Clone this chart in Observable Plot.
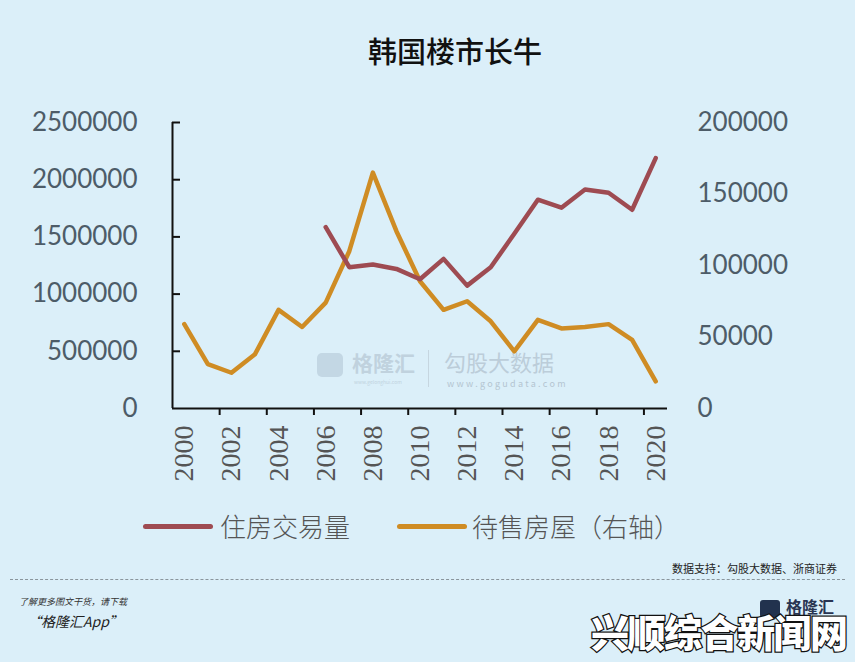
<!DOCTYPE html>
<html>
<head>
<meta charset="utf-8">
<script src="https://cdn.jsdelivr.net/npm/d3@7"></script>
<script src="https://cdn.jsdelivr.net/npm/@observablehq/plot@0.6"></script>
<style>
  body { margin: 0; }
  #wrap { position: relative; width: 855px; height: 662px; background: #dbeff9; overflow: hidden; font-family: "Noto Sans CJK SC", sans-serif; }
  .abs { position: absolute; white-space: nowrap; line-height: 1; }
</style>
</head>
<body>
<div id="wrap">
  <div class="abs" style="left:0;width:910px;top:36px;text-align:center;font-size:29px;font-weight:500;color:#111;">韩国楼市长牛</div>

  <!-- faint watermark behind the chart -->
  <div class="abs" style="left:317px;top:353px;width:26px;height:24px;border-radius:5px;background:#c3d7e4;"></div>
  <div class="abs" style="left:352px;top:352px;font-size:21px;color:#c0d2de;font-weight:700;">格隆汇</div>
  <div class="abs" style="left:354px;top:379px;font-size:5px;color:#c0d2de;">www.gelonghui.com</div>
  <div class="abs" style="left:428px;top:350px;width:1px;height:37px;background:#c6d6e0;"></div>
  <div class="abs" style="left:444px;top:350px;font-size:22px;color:#bccdd9;">勾股大数据</div>
  <div class="abs" style="left:447px;top:379px;font-size:9px;letter-spacing:2.3px;color:#b4c5d1;">www.gogudata.com</div>

  <div id="chart" class="abs" style="left:0;top:90px;"></div>

  <!-- legend -->
  <div class="abs" style="left:143px;top:524px;width:70px;height:5px;border-radius:3px;background:#9e4b52;"></div>
  <div class="abs" style="left:220px;top:513px;font-size:26px;font-weight:300;color:#555;">住房交易量</div>
  <div class="abs" style="left:397px;top:524px;width:70px;height:5px;border-radius:3px;background:#cf8c24;"></div>
  <div class="abs" style="left:472px;top:513px;font-size:26px;font-weight:300;color:#555;">待售房屋（右轴）</div>

  <div class="abs" style="right:18px;top:563px;font-size:11px;color:#222;">数据支持：勾股大数据、浙商证券</div>
  <div class="abs" style="left:10px;top:579px;width:835px;height:0;border-top:1px dashed #8a959c;"></div>
  <div class="abs" style="left:19px;top:597px;font-size:9px;font-style:italic;color:#333;">了解更多图文干货，请下载</div>
  <div class="abs" style="left:27px;top:614px;font-size:14px;font-style:italic;color:#222;">“格隆汇App”</div>

  <!-- logo -->
  <div class="abs" style="left:760px;top:600px;width:20px;height:18px;border-radius:3px;background:#22324e;"></div>
  <div class="abs" style="left:786px;top:598px;font-size:16px;font-weight:700;color:#2a3552;">格隆汇</div>

  <!-- overlay watermark -->
  <div class="abs" style="left:591px;top:612px;font-size:38px;font-weight:900;color:#fff;-webkit-text-stroke:2.5px #111;paint-order:stroke fill;letter-spacing:-1.5px;">兴顺综合新闻网</div>
</div>
<script>
// ---- data ----
const years = d3.range(2000, 2021);
const inventory = [59000, 31000, 25000, 38000, 69000, 57000, 74000, 110000, 165000, 124000, 89000, 69000, 75000, 61000, 40000, 62000, 56000, 57000, 59000, 48000, 19000]; // 待售房屋（右轴）
const salesYears = d3.range(2006, 2021);
const sales = [1585000, 1235000, 1258000, 1220000, 1130000, 1308000, 1074000, 1235000, 1527000, 1825000, 1755000, 1915000, 1886000, 1737000, 2189000]; // 住房交易量
const leftTicks = [0, 500000, 1000000, 1500000, 2000000, 2500000];
const rightTicks = [0, 50000, 100000, 150000, 200000];
const xLabelYears = [2000, 2002, 2004, 2006, 2008, 2010, 2012, 2014, 2016, 2018, 2020];
const xTickBounds = [2001.5, 2003.5, 2005.5, 2007.5, 2009.5, 2011.5, 2013.5, 2015.5, 2017.5, 2019.5];

const ratio = 2500000 / 200000;
const invData = years.map((y, i) => ({year: y, v: inventory[i]}));
const salesData = salesYears.map((y, i) => ({year: y, v: sales[i]}));

const chart = Plot.plot({
  width: 855,
  height: 420,
  marginTop: 32,
  marginBottom: 102,
  marginLeft: 172,
  marginRight: 188,
  style: {background: "transparent", overflow: "visible", fontFamily: "Lato", fontSize: "26px"},
  x: {type: "linear", domain: [1999.5, 2020.5]},
  y: {domain: [0, 2500000]},
  marks: [
    Plot.axisY({anchor: "left", ticks: leftTicks, tickSize: 0, tickPadding: 35, tickFormat: d => String(d),
      fontSize: 26, fill: "#4d5c68", label: null}),
    Plot.axisY({anchor: "left", ticks: leftTicks.slice(1), tickSize: -8, tickFormat: () => "", stroke: "#111", strokeWidth: 2, label: null}),
    Plot.axisY({anchor: "right", ticks: rightTicks.map(v => v * ratio), tickSize: 0, tickPadding: 30,
      tickFormat: d => String(Math.round(d / ratio)), fontSize: 26, fill: "#4d5c68", label: null}),
    Plot.axisX({anchor: "bottom", ticks: xTickBounds, tickSize: 7, tickFormat: () => "", stroke: "#111", strokeWidth: 2, label: null}),
    // year labels, rotated, in a serif face
    Plot.text(xLabelYears, {x: d => d, y: 0, text: d => String(d), rotate: -90, textAnchor: "end",
      dy: 17, fontFamily: "Liberation Serif", fontSize: 28, fill: "#555"}),
    Plot.ruleX([1999.5], {stroke: "#111", strokeWidth: 2}),
    Plot.ruleY([0], {stroke: "#111", strokeWidth: 2}),
    Plot.line(invData, {x: "year", y: d => d.v * ratio, stroke: "#cf8c24", strokeWidth: 4.5}),
    Plot.line(salesData, {x: "year", y: "v", stroke: "#9e4b52", strokeWidth: 4.5})
  ]
});
document.getElementById("chart").appendChild(chart);
</script>
</body>
</html>
